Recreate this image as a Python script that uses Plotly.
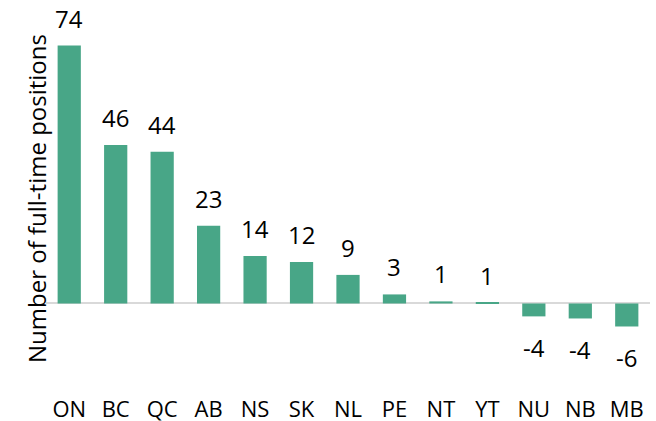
import plotly.graph_objects as go

provinces = ["ON", "BC", "QC", "AB", "NS", "SK", "NL", "PE", "NT", "YT", "NU", "NB", "MB"]
positions = [74, 45.5, 43.5, 22.3, 13.6, 11.9, 8.2, 2.6, 0.6, 0.25, -3.7, -4.3, -6.6]
labels = ["74", "46", "44", "23", "14", "12", "9", "3", "1", "1", "-4", "-4", "-6"]

BAR_COLOR = "#48a687"
FONT = "Open Sans"

fig = go.Figure()
fig.add_trace(go.Bar(
    x=provinces, y=positions,
    marker=dict(color=BAR_COLOR, line=dict(width=0)),
    hoverinfo="x+y",
))

# value labels above/below each bar
for prov, val, lab in zip(provinces, positions, labels):
    fig.add_annotation(
        x=prov, y=val, text=lab, showarrow=False,
        yanchor="bottom" if val >= 0 else "top",
        yshift=9 if val >= 0 else -13,
        font=dict(size=24, color="black", family=FONT),
    )

# y axis title as a rotated annotation so it can sit close to the plot
fig.add_annotation(
    xref="paper", yref="paper", x=0, y=0.5, xshift=-10, yshift=3,
    xanchor="center", yanchor="middle",
    text="Number of full-time positions", textangle=-90, showarrow=False,
    font=dict(size=24, color="black", family=FONT),
)

fig.update_layout(
    width=656, height=421,
    margin=dict(l=46, r=6, t=10, b=27),
    paper_bgcolor="white", plot_bgcolor="white",
    font=dict(family=FONT, size=22, color="black"),
    bargap=0.5,
    showlegend=False,
    xaxis=dict(showgrid=False, showline=False, ticks="", tickfont=dict(size=22), automargin=False),
    yaxis=dict(
        range=[-25.97, 84.2], showgrid=False, showticklabels=False, automargin=False,
        zeroline=True, zerolinecolor="#d9d9d9", zerolinewidth=2,
    ),
)

fig.write_html("out.html", config={"displayModeBar": False},
               post_script="document.body.style.margin='0';")
